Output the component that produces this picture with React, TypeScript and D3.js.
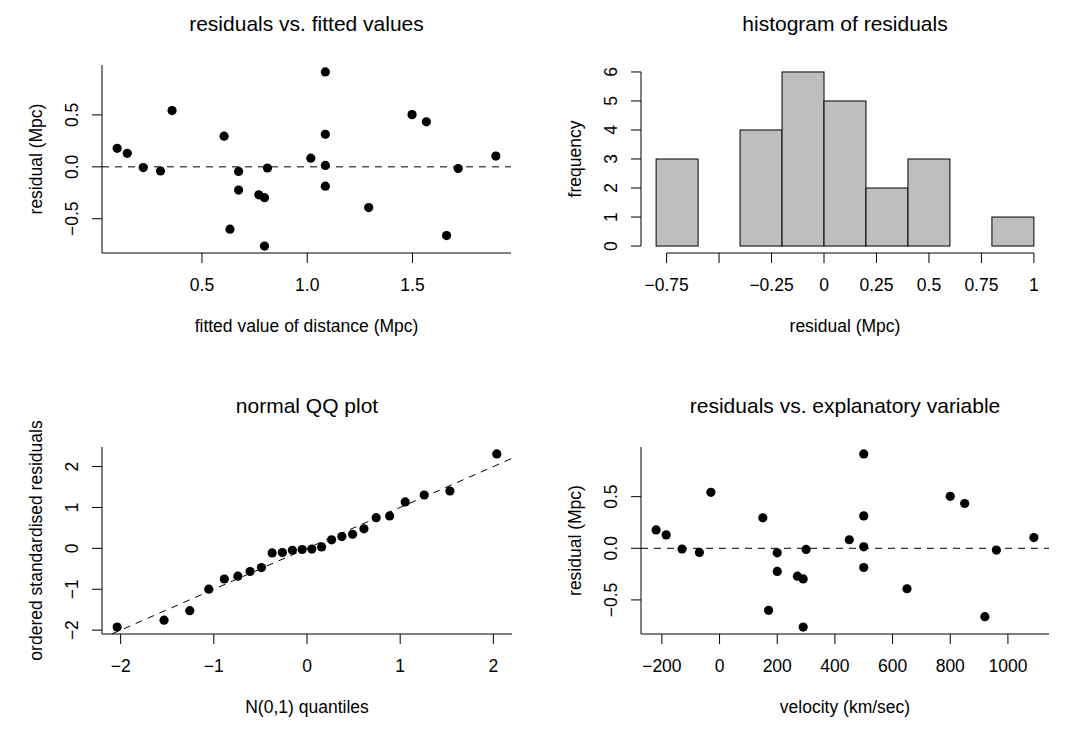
import React from "react";
import * as d3 from "d3";

// ---------- data (Hubble 1929: distance ~ velocity regression diagnostics) ----------
const velocity = [170, 290, -130, -70, -185, -220, 200, 290, 270, 200, 300, -30, 650, 150, 500, 920, 450, 500, 500, 960, 500, 850, 800, 1090];
const fittedValues = [0.633, 0.797, 0.221, 0.303, 0.145, 0.097, 0.674, 0.797, 0.770, 0.674, 0.811, 0.358, 1.292, 0.605, 1.086, 1.662, 1.017, 1.086, 1.086, 1.717, 1.086, 1.566, 1.498, 1.896];
const residuals = [-0.601, -0.763, -0.007, -0.040, 0.130, 0.178, -0.224, -0.297, -0.270, -0.044, -0.011, 0.542, -0.392, 0.295, -0.186, -0.662, 0.083, 0.014, 0.314, -0.017, 0.914, 0.434, 0.503, 0.104];

const qqTheoretical = [-2.037, -1.534, -1.258, -1.054, -0.887, -0.742, -0.611, -0.489, -0.374, -0.264, -0.157, -0.052, 0.052, 0.157, 0.264, 0.374, 0.489, 0.611, 0.742, 0.887, 1.054, 1.258, 1.534, 2.037];
const qqSample = [-1.925, -1.757, -1.523, -0.999, -0.750, -0.681, -0.566, -0.469, -0.111, -0.104, -0.046, -0.028, -0.017, 0.036, 0.209, 0.288, 0.345, 0.477, 0.749, 0.794, 1.136, 1.305, 1.403, 2.309];
const qqLineIntercept = 0;
const qqLineSlope = 1;

const histBreaks = [-0.8, -0.6, -0.4, -0.2, 0, 0.2, 0.4, 0.6, 0.8, 1.0];
const histCounts = [3, 0, 4, 6, 5, 2, 3, 0, 1];

const resTicks = [-0.5, 0, 0.5];
const resTickLabels = ["\u22120.5", "0.0", "0.5"];
const fittedTicks = [0.5, 1.0, 1.5];
const fittedTickLabels = ["0.5", "1.0", "1.5"];
const histXTicks = [-0.75, -0.5, -0.25, 0, 0.25, 0.5, 0.75, 1];
const histXTickLabels = ["\u22120.75", "", "\u22120.25", "0", "0.25", "0.5", "0.75", "1"];
const histYTicks = [0, 1, 2, 3, 4, 5, 6];
const histYTickLabels = ["0", "1", "2", "3", "4", "5", "6"];
const qqTicks = [-2, -1, 0, 1, 2];
const qqTickLabels = ["\u22122", "\u22121", "0", "1", "2"];
const velTicks = [-200, 0, 200, 400, 600, 800, 1000];
const velTickLabels = ["\u2212200", "0", "200", "400", "600", "800", "1000"];

const titles = ["residuals vs. fitted values", "histogram of residuals", "normal QQ plot", "residuals vs. explanatory variable"];
const xLabels = ["fitted value of distance (Mpc)", "residual (Mpc)", "N(0,1) quantiles", "velocity (km/sec)"];
const yLabels = ["residual (Mpc)", "frequency", "ordered standardised residuals", "residual (Mpc)"];

// ---------- layout ----------
const W = 1071;
const H = 731;
const FONT = "'Liberation Sans', Arial, Helvetica, sans-serif";
const FS = 17.5;
const TITLE_FS = 21;
const TICK = 10;
const R = 4.6;
const DASH = "7,6";

const boxes = [
  { l: 102, r: 511, t: 65, b: 253 },
  { l: 641, r: 1049, t: 65, b: 253 },
  { l: 102, r: 512, t: 447, b: 634 },
  { l: 641, r: 1049, t: 447, b: 634 },
];

function ext(lo: number, hi: number): [number, number] {
  const d = (hi - lo) * 0.04;
  return [lo - d, hi + d];
}

type Scale = d3.ScaleLinear<number, number>;

function XAxis({ s, ticks, labels, y, from, to }: { s: Scale; ticks: number[]; labels: string[]; y: number; from: number; to: number }) {
  return (
    <g>
      <line x1={from} x2={to} y1={y} y2={y} stroke="#000" strokeWidth={1} />
      {ticks.map((t, i) => (
        <g key={i}>
          <line x1={s(t)} x2={s(t)} y1={y} y2={y + TICK} stroke="#000" strokeWidth={1} />
          <text x={s(t)} y={y + 38} textAnchor="middle" fontSize={FS} fontFamily={FONT}>
            {labels[i]}
          </text>
        </g>
      ))}
    </g>
  );
}

function YAxis({ s, ticks, labels, x, from, to }: { s: Scale; ticks: number[]; labels: string[]; x: number; from: number; to: number }) {
  return (
    <g>
      <line x1={x} x2={x} y1={from} y2={to} stroke="#000" strokeWidth={1} />
      {ticks.map((t, i) => (
        <g key={i}>
          <line x1={x - TICK} x2={x} y1={s(t)} y2={s(t)} stroke="#000" strokeWidth={1} />
          <text
            transform={`translate(${x - 24},${s(t)}) rotate(-90)`}
            textAnchor="middle"
            fontSize={FS}
            fontFamily={FONT}
          >
            {labels[i]}
          </text>
        </g>
      ))}
    </g>
  );
}

function Labels({ i }: { i: number }) {
  const b = boxes[i];
  const cx = (b.l + b.r) / 2;
  const cy = (b.t + b.b) / 2;
  return (
    <g fontFamily={FONT} fill="#000">
      <text x={cx} y={b.t - 34} textAnchor="middle" fontSize={TITLE_FS}>
        {titles[i]}
      </text>
      <text x={cx} y={b.b + 79} textAnchor="middle" fontSize={FS}>
        {xLabels[i]}
      </text>
      <text transform={`translate(${b.l - 60},${cy}) rotate(-90)`} textAnchor="middle" fontSize={FS}>
        {yLabels[i]}
      </text>
    </g>
  );
}

function ResidualScatter({ i, xs, xVals, xTicks, xTickLabels }: { i: number; xs: Scale; xVals: number[]; xTicks: number[]; xTickLabels: string[] }) {
  const b = boxes[i];
  const ys = d3
    .scaleLinear()
    .domain(ext(d3.min(residuals)!, d3.max(residuals)!))
    .range([b.b, b.t]);
  return (
    <g>
      <line x1={b.l} x2={b.r} y1={ys(0)} y2={ys(0)} stroke="#000" strokeWidth={1} strokeDasharray={DASH} />
      {xVals.map((v, k) => (
        <circle key={k} cx={xs(v)} cy={ys(residuals[k])} r={R} fill="#000" />
      ))}
      <XAxis s={xs} ticks={xTicks} labels={xTickLabels} y={b.b} from={b.l} to={b.r} />
      <YAxis s={ys} ticks={resTicks} labels={resTickLabels} x={b.l} from={b.t} to={b.b} />
      <Labels i={i} />
    </g>
  );
}

function Histogram() {
  const b = boxes[1];
  const xs = d3.scaleLinear().domain(ext(histBreaks[0], histBreaks[histBreaks.length - 1])).range([b.l, b.r]);
  const ys = d3.scaleLinear().domain(ext(0, d3.max(histYTicks)!)).range([b.b, b.t]);
  return (
    <g>
      {histCounts.map((c, k) => (
        <rect
          key={k}
          x={xs(histBreaks[k])}
          y={ys(c)}
          width={xs(histBreaks[k + 1]) - xs(histBreaks[k])}
          height={ys(0) - ys(c)}
          fill="#bebebe"
          stroke="#000"
          strokeWidth={1}
        />
      ))}
      <XAxis s={xs} ticks={histXTicks} labels={histXTickLabels} y={b.b} from={xs(histXTicks[0])} to={xs(histXTicks[histXTicks.length - 1])} />
      <YAxis s={ys} ticks={histYTicks} labels={histYTickLabels} x={b.l} from={ys(0)} to={ys(6)} />
      <Labels i={1} />
    </g>
  );
}

function QQPlot() {
  const b = boxes[2];
  const xs = d3.scaleLinear().domain(ext(d3.min(qqTheoretical)!, d3.max(qqTheoretical)!)).range([b.l, b.r]);
  const ys = d3.scaleLinear().domain(ext(d3.min(qqSample)!, d3.max(qqSample)!)).range([b.b, b.t]);
  const [x0, x1] = xs.domain();
  const [y0, y1] = ys.domain();
  // clip y = a + b x to the plot region
  const lx0 = Math.max(x0, (y0 - qqLineIntercept) / qqLineSlope);
  const lx1 = Math.min(x1, (y1 - qqLineIntercept) / qqLineSlope);
  return (
    <g>
      <line
        x1={xs(lx0)}
        y1={ys(qqLineIntercept + qqLineSlope * lx0)}
        x2={xs(lx1)}
        y2={ys(qqLineIntercept + qqLineSlope * lx1)}
        stroke="#000"
        strokeWidth={1}
        strokeDasharray={DASH}
      />
      {qqTheoretical.map((q, k) => (
        <circle key={k} cx={xs(q)} cy={ys(qqSample[k])} r={R} fill="#000" />
      ))}
      <XAxis s={xs} ticks={qqTicks} labels={qqTickLabels} y={b.b} from={b.l} to={b.r} />
      <YAxis s={ys} ticks={qqTicks} labels={qqTickLabels} x={b.l} from={b.t} to={b.b} />
      <Labels i={2} />
    </g>
  );
}

export default function App() {
  const xsFitted = d3.scaleLinear().domain(ext(d3.min(fittedValues)!, d3.max(fittedValues)!)).range([boxes[0].l, boxes[0].r]);
  const xsVel = d3.scaleLinear().domain(ext(d3.min(velocity)!, d3.max(velocity)!)).range([boxes[3].l, boxes[3].r]);
  return (
    <svg
      width={W}
      height={H}
      viewBox={`0 0 ${W} ${H}`}
      style={{ position: "absolute", left: 0, top: 0, background: "#fff" }}
    >
      <rect x={0} y={0} width={W} height={H} fill="#fff" />
      <ResidualScatter i={0} xs={xsFitted} xVals={fittedValues} xTicks={fittedTicks} xTickLabels={fittedTickLabels} />
      <Histogram />
      <QQPlot />
      <ResidualScatter i={3} xs={xsVel} xVals={velocity} xTicks={velTicks} xTickLabels={velTickLabels} />
    </svg>
  );
}
